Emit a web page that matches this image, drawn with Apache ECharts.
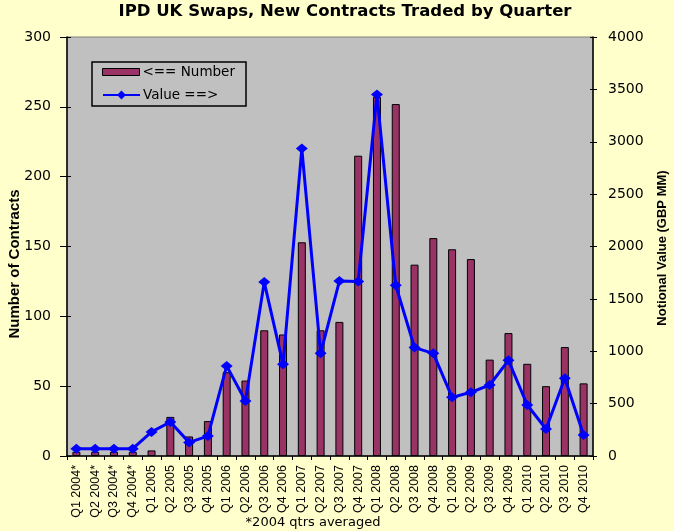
<!DOCTYPE html>
<html>
<head>
<meta charset="utf-8">
<script src="https://cdn.jsdelivr.net/npm/echarts@6/dist/echarts.min.js"></script>
<style>
html,body{margin:0;padding:0;background:#FFFFCC;}
#chart{width:674px;height:531px;}
</style>
</head>
<body>
<div id="chart"></div>
<script>
const titleText = 'IPD UK Swaps, New Contracts Traded by Quarter';
const categories = ['Q1 2004*','Q2 2004*','Q3 2004*','Q4 2004*','Q1 2005','Q2 2005','Q3 2005','Q4 2005','Q1 2006','Q2 2006','Q3 2006','Q4 2006','Q1 2007','Q2 2007','Q3 2007','Q4 2007','Q1 2008','Q2 2008','Q3 2008','Q4 2008','Q1 2009','Q2 2009','Q3 2009','Q4 2009','Q1 2010','Q2 2010','Q3 2010','Q4 2010'];
const contracts = [3,3,3,3,4,28,14,25,60,54,90,87,153,90,96,215,257,252,137,156,148,141,69,88,66,50,78,52];
const notional = [70,70,70,70,230,325,130,190,860,525,1660,875,2935,980,1670,1665,3450,1630,1035,980,560,608,678,913,487,258,742,200];
const leftTicks = {min:0, max:300, interval:50};
const rightTicks = {min:0, max:4000, interval:500};
const leftName = 'Number of Contracts';
const rightName = 'Notional Value (GBP MM)';
const noteText = '*2004 qtrs averaged';
const seriesNames = ['<== Number', 'Value ==>'];

const chart = echarts.init(document.getElementById('chart'), null, {renderer:'canvas'});
const tickFont = {fontFamily:'DejaVu Sans', fontSize:14, color:'#000'};
const legendText = {fontFamily:'DejaVu Sans', fontSize:13.5, color:'#000'};
chart.setOption({
  backgroundColor:'#FFFFCC',
  animation:false,
  title:{
    text:titleText, left:345, top:3, textAlign:'center', padding:0,
    textStyle:{fontFamily:'DejaVu Sans', fontWeight:'bold', fontSize:16.5, color:'#000'}
  },
  legend:[
    {orient:'vertical', left:102, top:65, padding:0, itemGap:0,
     itemWidth:37, itemHeight:7, itemStyle:{borderColor:'#000', borderWidth:1},
     textStyle:Object.assign({padding:[0,0,0,-2]}, legendText),
     data:[{name:seriesNames[0], icon:'rect'}]},
    {orient:'vertical', left:102, top:88, padding:0, itemGap:0,
     itemWidth:37, itemHeight:11,
     textStyle:Object.assign({padding:[0,0,0,-2]}, legendText),
     data:[{name:seriesNames[1]}]}
  ],
  grid:{
    left:67, right:81, top:37, bottom:75, show:true,
    backgroundColor:'#C0C0C0', borderColor:'#808080', borderWidth:1
  },
  xAxis:{
    type:'category', data:categories, boundaryGap:true,
    axisLine:{lineStyle:{color:'#000', width:1.5}},
    axisTick:{show:true, length:4, interval:0, lineStyle:{color:'#000'}},
    axisLabel:{interval:0, rotate:90, margin:9, fontFamily:'Liberation Sans', fontSize:12.5, color:'#000'}
  },
  yAxis:[
    {type:'value', position:'left', min:leftTicks.min, max:leftTicks.max, interval:leftTicks.interval,
     axisLine:{show:true, lineStyle:{color:'#000', width:1.5}},
     axisTick:{show:true, length:7, lineStyle:{color:'#000'}},
     splitLine:{show:false},
     axisLabel:Object.assign({margin:16, formatter:function(v){return String(v);}}, tickFont)},
    {type:'value', position:'right', min:rightTicks.min, max:rightTicks.max, interval:rightTicks.interval,
     axisLine:{show:true, lineStyle:{color:'#000', width:1.5}},
     axisTick:{show:true, length:4, lineStyle:{color:'#000'}},
     splitLine:{show:false},
     axisLabel:Object.assign({margin:15, formatter:function(v){return String(v);}}, tickFont)},
    {type:'value', position:'left', min:leftTicks.min, max:leftTicks.max, interval:leftTicks.interval,
     axisLine:{show:false}, axisTick:{show:true, inside:true, length:4, lineStyle:{color:'#000'}},
     axisLabel:{show:false}, splitLine:{show:false}},
    {type:'value', position:'right', min:rightTicks.min, max:rightTicks.max, interval:rightTicks.interval,
     axisLine:{show:false}, axisTick:{show:true, inside:true, length:3, lineStyle:{color:'#000'}},
     axisLabel:{show:false}, splitLine:{show:false}}
  ],
  graphic:[
    {type:'rect', z:5, shape:{x:92, y:62, width:154, height:44},
     style:{fill:'none', stroke:'#000', lineWidth:1.5}},
    {type:'text', x:15, y:264, rotation:Math.PI/2,
     style:{text:leftName, fontFamily:'Liberation Sans', fontWeight:'bold', fontSize:15, fill:'#000', textAlign:'center', textVerticalAlign:'middle'}},
    {type:'text', x:662, y:248, rotation:Math.PI/2,
     style:{text:rightName, fontFamily:'Liberation Sans', fontWeight:'bold', fontSize:13, fill:'#000', textAlign:'center', textVerticalAlign:'middle'}},
    {type:'text', x:313, y:523,
     style:{text:noteText, fontFamily:'DejaVu Sans', fontSize:13, fill:'#000', textAlign:'center', textVerticalAlign:'middle'}}
  ],
  series:[
    {name:seriesNames[0], type:'bar', yAxisIndex:0, data:contracts, barWidth:8,
     itemStyle:{color:'#993366', borderColor:'#000', borderWidth:1}},
    {name:seriesNames[1], type:'line', yAxisIndex:1, data:notional,
     symbol:'diamond', symbolSize:[12,10], showSymbol:true,
     lineStyle:{color:'#0000FF', width:3}, itemStyle:{color:'#0000FF'}}
  ]
});
</script>
</body>
</html>
